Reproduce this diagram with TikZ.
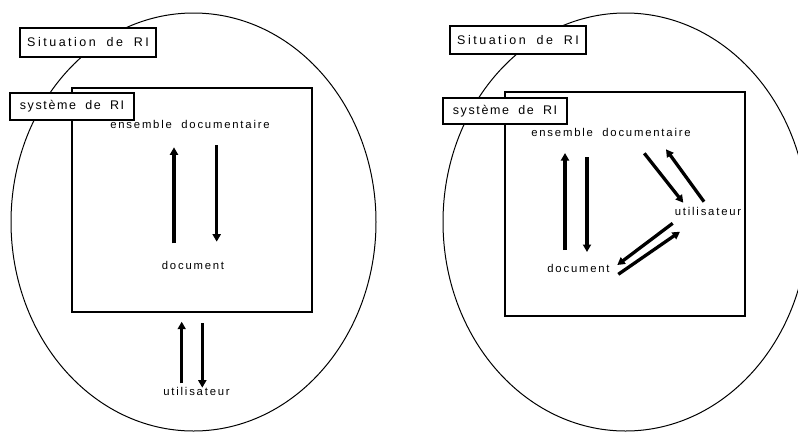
\documentclass[tikz,border=0pt]{standalone}
\usepackage{fontspec}
\setmainfont{Liberation Sans}
\newfontfamily\spaced[LetterSpace=20,WordSpace=1.8]{Liberation Sans}
\newfontfamily\spacedb[LetterSpace=13,WordSpace=1.8]{Liberation Sans}
\newfontfamily\spacedc[LetterSpace=16,WordSpace=1.9]{Liberation Sans}
\usetikzlibrary{arrows.meta}
\tikzset{
  circ/.style={draw, line width=1pt},
  frame/.style={draw, line width=1.3pt},
  tagbox/.style={draw, line width=1.3pt, fill=white, inner sep=0pt,
    minimum width=124pt, minimum height=27pt, font=\spaced\fontsize{12.5pt}{14pt}\selectfont},
  systag/.style={tagbox, font=\spacedb\fontsize{12.5pt}{14pt}\selectfont},
  lbl/.style={inner sep=0pt, anchor=base, font=\spacedc\fontsize{11.3pt}{13pt}\selectfont},
  flow/.style={line width=3.3pt, -{Triangle[length=7.5pt,width=8pt]}}
}
\begin{document}
\begin{tikzpicture}[x=1pt,y=-1pt]
\useasboundingbox (0,0) rectangle (798,432);
\begin{scope}
\clip (0,0) rectangle (798,432);
\draw[circ] (193.5,222) ellipse [x radius=182.5pt, y radius=209pt];
\draw[circ] (625.5,222) ellipse [x radius=182.5pt, y radius=209pt];
\end{scope}
\node[frame, inner sep=0pt, minimum width=240pt, minimum height=224pt] (sysL) at (192,200) {};
\node[frame, inner sep=0pt, minimum width=240pt, minimum height=224pt] (sysR) at (625,204) {};
\node[tagbox, minimum width=136pt, minimum height=29pt] (sitL) at (88,42.5) {Situation de RI};
\node[systag] (tagL) at (72,106.5) {système de RI};
\node[tagbox, minimum width=136pt, minimum height=28pt] (sitR) at (518,40) {Situation de RI};
\node[systag, minimum height=26pt] (tagR) at (505,111) {système de RI};
% left labels
\node[lbl] (ensL) at (190,128) {ensemble documentaire};
\node[lbl] (docL) at (193,269.3) {document};
\node[lbl] (utiL) at (196.5,395.7) {utilisateur};
% right labels
\node[lbl] (ensR) at (611,136.7) {ensemble documentaire};
\node[lbl] (docR) at (578.5,272.7) {document};
\node[lbl] (utiR) at (708,215.7) {utilisateur};
% arrow end points
\coordinate (a1s) at (174,243.3); \coordinate (a1e) at (174,147.3);
\coordinate (a2s) at (216.7,145); \coordinate (a2e) at (216.7,241.7);
\coordinate (a3s) at (181.7,383.3); \coordinate (a3e) at (181.7,321.7);
\coordinate (a4s) at (202.3,323.3); \coordinate (a4e) at (202.3,387.7);
\coordinate (b1s) at (565,250); \coordinate (b1e) at (565,153);
\coordinate (b2s) at (587,157); \coordinate (b2e) at (587,252);
\coordinate (b3s) at (644.3,153.3); \coordinate (b3e) at (683.3,202.7);
\coordinate (b4s) at (704,201.7); \coordinate (b4e) at (666,149.3);
\coordinate (b5s) at (672.7,223.3); \coordinate (b5e) at (617.3,265);
\coordinate (b6s) at (618.3,274.3); \coordinate (b6e) at (680,231.7);
\foreach \p in {a1,a2,a3,a4,b1,b2,b3,b4,b5,b6}
  \draw[flow] (\p s) -- (\p e);
\end{tikzpicture}
\end{document}
